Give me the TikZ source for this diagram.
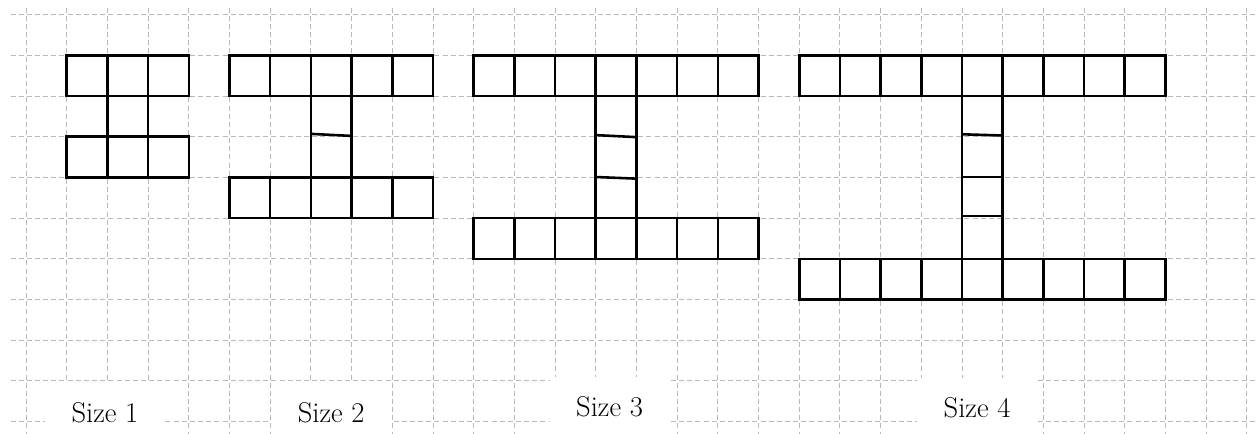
\documentclass[tikz,border=0pt]{standalone}
\usepackage{tikz}
\usetikzlibrary{positioning}

\begin{document}
\begin{tikzpicture}[
	grid/.style={gray!55,line width=0.6pt,dash pattern=on 3.5pt off 2.2pt},
	sq/.style={draw=black,line width=1.8pt},
	lbl/.style={fill=white,anchor=base,inner sep=0pt,minimum width=2.95cm,
		text height=0.97cm,text depth=0.5cm,font=\fontsize{20}{24}\selectfont}]
\path[use as bounding box,fill=white] (-0.64,-0.29) rectangle (30.25,10.36);
% squared paper
\foreach \y in {0,...,10}\draw[grid] (-0.38,\y)--(30.3,\y);
\foreach \x in {0,...,30}\draw[grid] (\x,10.17)--(\x,-0.4);
% captions
\node[lbl] (s1) at (1.94,-0.02) {Size 1};
\node[lbl] (s2) at (7.50,-0.02) {Size 2};
\node[lbl] (s3) at (14.34,0.12) {Size 3};
\node[lbl] (s4) at (23.37,0.11) {Size 4};
% size 1
\foreach \x in {1,...,3}{\draw[sq] (\x,8) rectangle ++(1,1); \draw[sq] (\x,6) rectangle ++(1,1);}
\draw[sq] (2,7) rectangle (3,8);
% size 2
\foreach \x in {5,...,9}{\draw[sq] (\x,8) rectangle ++(1,1); \draw[sq] (\x,5) rectangle ++(1,1);}
\draw[sq] (7,6) rectangle (8,8);
\draw[sq] (7,7.07)--(8,7.02);
% size 3
\foreach \x in {11,...,17}{\draw[sq] (\x,8) rectangle ++(1,1); \draw[sq] (\x,4) rectangle ++(1,1);}
\draw[sq] (14,5) rectangle (15,8);
\draw[sq] (14,7.04)--(15,6.99);
\draw[sq] (14,6.01)--(15,5.97);
% size 4
\foreach \x in {19,...,27}{\draw[sq] (\x,8) rectangle ++(1,1); \draw[sq] (\x,3) rectangle ++(1,1);}
\draw[sq] (23,4) rectangle (24,8);
\draw[sq] (23,7.06)--(24,7.03);
\draw[sq] (23,6.01)--(24,6.01);
\draw[sq] (23,5.05)--(24,5.05);
\end{tikzpicture}
\end{document}
